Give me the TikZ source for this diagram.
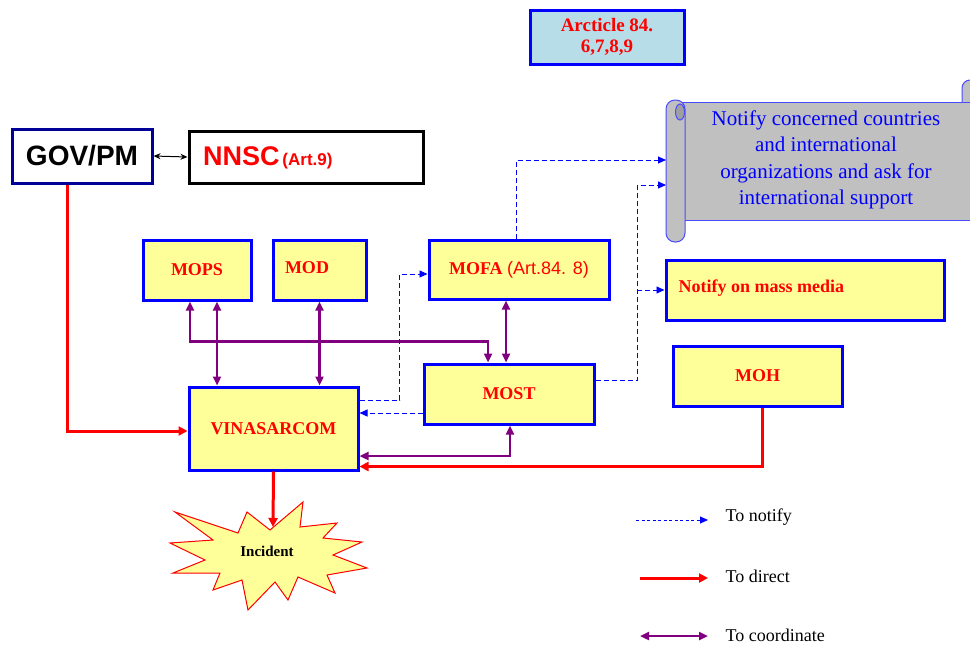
\documentclass[tikz,border=0pt]{standalone}
\usepackage{fontspec}
\setmainfont{Liberation Serif}
\setsansfont{Liberation Sans}
\usetikzlibrary{arrows.meta,calc}
\definecolor{boxyellow}{HTML}{FFFF99}
\definecolor{pblue}{HTML}{0000FF}
\definecolor{navy}{HTML}{000099}
\definecolor{dpurple}{HTML}{800080}
\definecolor{artfill}{HTML}{B7DEE8}
\definecolor{scrollgray}{HTML}{C0C0C0}
\definecolor{scrollline}{HTML}{4A4AFF}
\definecolor{starfill}{HTML}{FFFF99}
\begin{document}
\begin{tikzpicture}[x=1pt,y=-1pt,
  ybox/.style={draw=pblue, line width=3pt, fill=boxyellow, inner sep=0pt},
  rtxt/.style={text=red, font=\bfseries\fontsize{18}{21}\selectfont},
  notify/.style={draw=pblue, line width=0.9pt, dash pattern=on 5pt off 3pt, -{Triangle[width=7pt,length=8pt]}},
  direct/.style={draw=red, line width=3pt, -{Triangle[width=9pt,length=9pt]}},
  coord/.style={draw=dpurple, line width=2.5pt, {Triangle[width=8pt,length=9pt]}-{Triangle[width=8pt,length=9pt]}},
  legtxt/.style={anchor=west, font=\fontsize{18}{21}\selectfont}
]
\useasboundingbox (0,0) rectangle (970,646);

% ---------- scroll ----------
\begin{scope}
\clip (0,0) rectangle (970,646);
\draw[scrollline, line width=1pt, fill=scrollgray, rounded corners=8pt] (962,80) rectangle (985,112);
\draw[scrollline, line width=1pt, fill=scrollgray] (676,102) rectangle (985,220);
\draw[scrollline, line width=1pt, fill=scrollgray, rounded corners=9pt] (666,100) rectangle (685,242);
\draw[scrollline, line width=1pt, fill=gray!75] (680,112) ellipse [x radius=4.5pt, y radius=8pt];
\end{scope}
\node[text=pblue, align=center, font=\fontsize{21}{26.5}\selectfont] (scrtxt) at (826,160)
  {Notify concerned countries\\and international\\organizations and ask for\\international support};

% ---------- header nodes ----------
\node[draw=navy, line width=3pt, fill=white, minimum width=140pt, minimum height=54pt, inner sep=0pt,
  font=\sffamily\bfseries\fontsize{28}{32}\selectfont] (gov) at (82,156) {GOV/PM};
\node[draw=black, line width=3pt, fill=white, minimum width=234pt, minimum height=52pt, inner sep=0pt] (nnsc) at (306,157) {};
\node[anchor=west, text=red, font=\sffamily\bfseries, inner sep=0pt] (nnsctxt) at (203,158)
  {{\fontsize{27}{32}\selectfont NNSC} {\fontsize{17}{18}\selectfont (Art.9)}};
\node[draw=pblue, line width=3pt, fill=artfill, minimum width=154pt, minimum height=54pt, inner sep=0pt,
  align=center, text=red, font=\bfseries\fontsize{19}{21}\selectfont] (art) at (607,37) {Arcticle 84.\\6,7,8,9};

% ---------- boxes ----------
\node[ybox, minimum width=108pt, minimum height=60pt, rtxt] (mops) at (197,270) {MOPS};
\node[ybox, minimum width=93pt, minimum height=60pt] (mod) at (319.5,270) {};
\node[rtxt] (modtxt) at (307,268) {MOD};
\node[ybox, minimum width=180pt, minimum height=59pt, rtxt] (mofa) at (519,269.5)
  {MOFA {\mdseries\sffamily\fontsize{18}{21}\selectfont(Art.84. 8)}};
\node[ybox, minimum width=170pt, minimum height=60pt, rtxt] (most) at (509,394) {MOST};
\node[ybox, minimum width=169pt, minimum height=83pt, rtxt] (vina) at (273.5,428.5) {VINASARCOM};
\node[ybox, minimum width=278pt, minimum height=60pt] (mass) at (805,290) {};
\node[rtxt, anchor=west, font=\bfseries\fontsize{18}{21}\selectfont] (masstxt) at (675,288) {Notify on mass media};
\node[ybox, minimum width=169pt, minimum height=60pt, rtxt] (moh) at (757.5,376) {MOH};

% ---------- incident ----------
\draw[red, line width=1pt, fill=starfill, line join=miter]
  (175,512) -- (238,533) -- (247,512) -- (270,530) -- (303,502) -- (300,527) --
  (337,523) -- (323,538) -- (362,542) -- (333,555) -- (367,568) -- (327,575) --
  (335,593) -- (298,577) -- (288,600) -- (275,582) -- (248,610) -- (242,580) --
  (213,590) -- (220,573) -- (173,573) -- (205,560) -- (170,543) -- (213,540) -- cycle;
\node[font=\bfseries\fontsize{15}{18}\selectfont] (inc) at (267,551) {Incident};
\coordinate (incTop) at (273,527);

% ---------- connectors ----------
\draw[{Stealth[length=7pt,width=6pt]}-{Stealth[length=7pt,width=6pt]}, line width=1pt] (gov.east) -- (nnsc.west);

% direct
\draw[direct] ([xshift=-15pt]gov.south) |- ([yshift=-2.5pt]vina.west);
\draw[direct] (vina.south) -- (incTop);
\draw[direct] ([xshift=4.5pt]moh.south) |- ([yshift=5pt]vina.south east);

% coordinate
\draw[coord] ([xshift=-7pt]mops.south) -- ++(0,40) -| ([xshift=-21pt]most.north);
\draw[coord] ([xshift=20pt]mops.south) -- ([xshift=20pt]mops.south |- vina.north);
\draw[coord] (mod.south) -- (mod.south |- vina.north);
\draw[coord] ([xshift=-13pt]mofa.south) -- ([xshift=-13pt]mofa.south |- most.north);
\draw[coord] ([xshift=1pt]most.south) |- ([yshift=-27.5pt]vina.east);

% notify
\coordinate (scrA) at (666,160);
\coordinate (scrB) at (666,185);
\coordinate (j) at (637,380);
\coordinate (jm) at (637,290);
\draw[notify] ([yshift=28.5pt]vina.east) -- ++(40,0) |- ([yshift=-4.5pt]mofa.west);
\draw[notify] ([yshift=-19pt]most.west) -- ([yshift=-19pt]most.west -| vina.east);
\draw[notify] ([xshift=-3pt]mofa.north) |- (scrA);
\draw[notify] ([yshift=14pt]most.east) -- (j) |- (scrB);
\draw[notify] (jm) -- (mass.west);

% ---------- legend ----------
\coordinate (l1a) at (636,520); \coordinate (l1b) at (708,520);
\coordinate (l2a) at (640,578); \coordinate (l2b) at (708,578);
\coordinate (l3a) at (640,636); \coordinate (l3b) at (708,636);
\draw[notify, dash pattern=on 3pt off 2.5pt] (l1a) -- (l1b);
\draw[direct] (l2a) -- (l2b);
\draw[coord] (l3a) -- (l3b);
\node[legtxt] (lt1) at (722,517) {To notify};
\node[legtxt] (lt2) at (722,576) {To direct};
\node[legtxt] (lt3) at (722,635) {To coordinate};
\end{tikzpicture}
\end{document}
